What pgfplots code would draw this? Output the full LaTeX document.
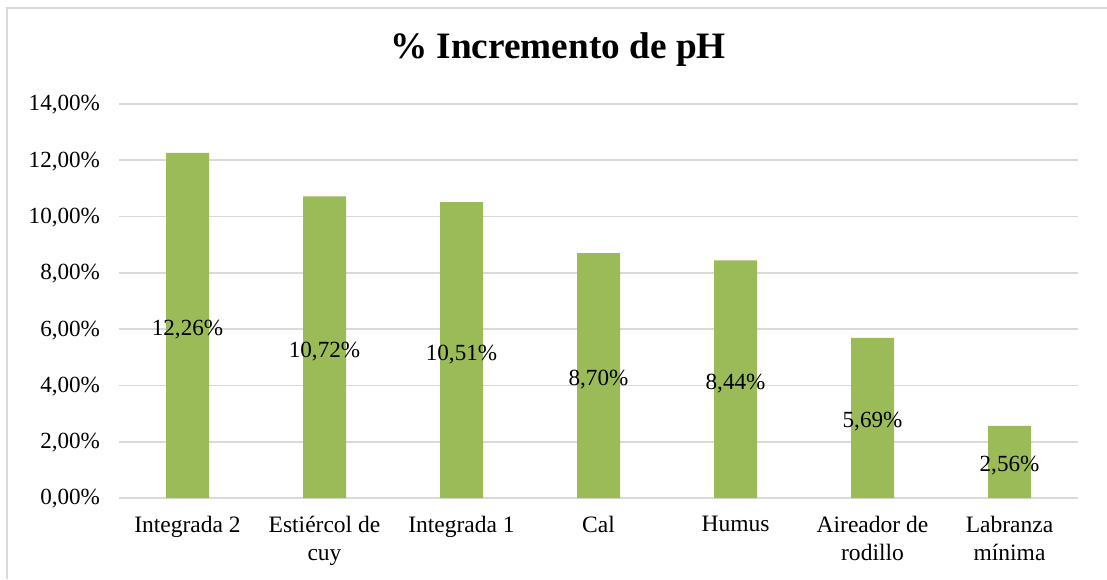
\documentclass[border=0pt]{standalone}
\usepackage{pgfplots}
\usepackage{pgfplotstable}
\pgfplotsset{compat=1.18}
\usepackage{fontspec}
\setmainfont{Liberation Serif}
\definecolor{bargreen}{HTML}{9BBB59}
\definecolor{gridgray}{HTML}{D9D9D9}
\pgfplotstableread{
x y
0 12.26
1 10.72
2 10.51
3 8.70
4 8.44
5 5.69
6 2.56
}\datatable
\begin{document}
\begin{tikzpicture}[x=1bp,y=1bp]
\path[use as bounding box] (0,0) rectangle (553.5,289.5);
\draw[gridgray, line width=0.8bp] (3.5,0) -- (3.5,285.5) -- (553.5,285.5);
\node[font=\fontsize{18.7}{22}\selectfont\bfseries] at (279,264.5) {\% Incremento de pH};
\begin{axis}[
  at={(59.5bp,40.5bp)}, anchor=south west,
  scale only axis, width=479.5bp, height=197bp,
  xmin=-0.5, xmax=6.5, ymin=0, ymax=14,
  ytick={0,2,...,14},
  xtick={0,...,6},
  xticklabels={Integrada 2, Estiércol de\\cuy, Integrada 1, Cal, Humus, Aireador de\\rodillo, Labranza\\mínima},
  xticklabel style={align=center, font=\fontsize{11.8}{14}\selectfont, yshift=-5.5bp},
  yticklabel={\pgfmathprintnumber[fixed,fixed zerofill,precision=2,use comma]{\tick}\%},
  yticklabel style={font=\fontsize{11.6}{13}\selectfont, xshift=-6bp, yshift=-0.5bp},
  /pgf/number format/assume math mode=true,
  major tick length=0pt,
  ymajorgrids, grid style={gridgray, line width=0.8bp},
  axis x line*=bottom, axis y line*=left,
  x axis line style={gridgray, line width=0.8bp, -},
  y axis line style={draw=none},
  enlargelimits=false,
  clip=false,
]
\addplot[ybar, bar width=21.5bp, fill=bargreen, draw=none] table[x=x, y=y] {\datatable};
\addplot[draw=none, mark=none, point meta=explicit,
  nodes near coords={\pgfmathprintnumber[fixed,fixed zerofill,precision=2,use comma]{\pgfplotspointmeta}\%},
  nodes near coords style={font=\fontsize{11.6}{13}\selectfont, anchor=center, text=black, yshift=-2bp},
] table[x=x, y expr=\thisrow{y}/2, meta=y] {\datatable};
\end{axis}
\end{tikzpicture}
\end{document}
